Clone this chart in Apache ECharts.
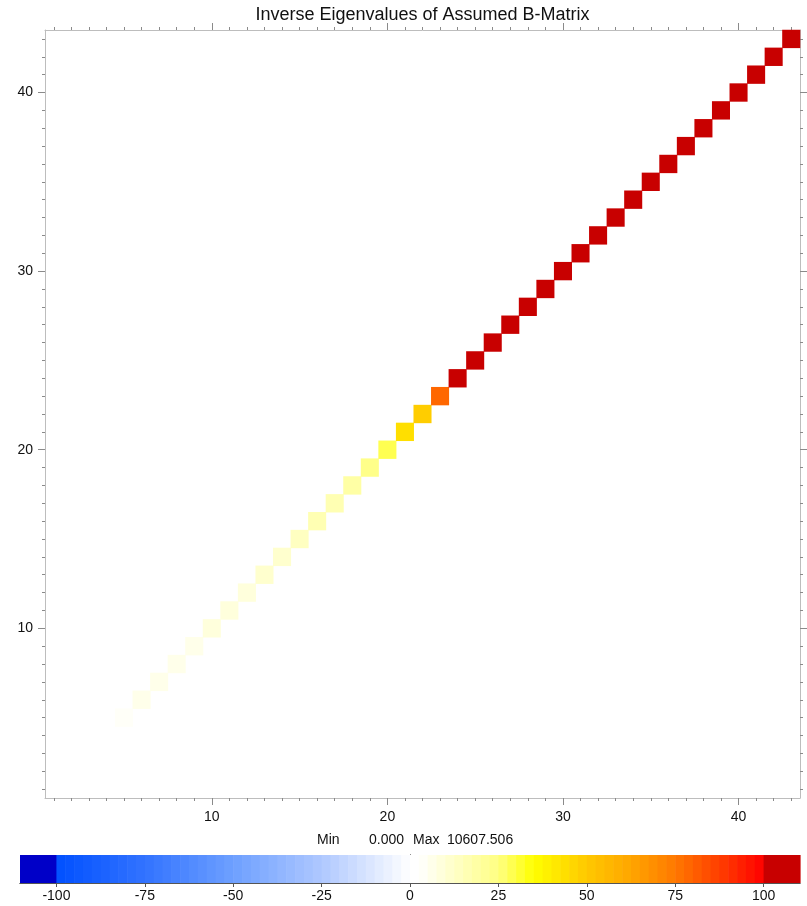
<!DOCTYPE html>
<html><head><meta charset="utf-8">
<script src="https://cdn.jsdelivr.net/npm/echarts@6/dist/echarts.min.js"></script>
<style>html,body{margin:0;padding:0;background:#fff}#c{width:807px;height:906px}</style>
</head><body><div id="c"></div>
<script>
// ---- data ----
const categories = ['1','2','3','4','5','6','7','8','9','10','11','12','13','14','15','16','17','18','19','20',
  '21','22','23','24','25','26','27','28','29','30','31','32','33','34','35','36','37','38','39','40','41','42','43'];
const majorTicks = ['10','20','30','40'];
const diagIndex = [5,6,7,8,9,10,11,12,13,14,15,16,17,18,19,20,21,22,23,24,25,26,27,28,29,30,31,32,33,34,35,36,37,38,39,40,41,42,43];
const diagValues = [4.2,5.0,5.6,6.4,7.1,7.9,8.8,9.9,11.0,12.3,13.6,15.2,16.9,19.4,23.1,28.0,44.5,49.0,79.5,
  132.6,171.4,218.0,268.9,330.2,405.7,497.3,611.8,749.5,915.0,1120.4,1372.9,1681.5,2065.2,2531.7,3108.3,3820.6,4704.1,6113.8,10607.506];
const colorbarTicks = [-100,-75,-50,-25,0,25,50,75,100];
const minValue = '0.000', maxValue = '10607.506';
const titleText = 'Inverse Eigenvalues of Assumed B-Matrix';

// ---- colour scale (style) ----
const STEP = 2.5;
const stops = [
  [-100,[0,80,255]],[-75,[50,115,255]],[-50,[110,160,255]],[-25,[175,200,255]],[0,[255,255,255]],
  [2.5,[255,255,255]],[25,[255,255,130]],[35,[255,255,0]],[50,[255,200,0]],[62.5,[255,165,0]],
  [75,[255,120,0]],[90,[255,50,0]],[100,[255,0,0]]
];
function colorAt(v){
  for(let i=0;i<stops.length-1;i++){
    const a=stops[i],b=stops[i+1];
    if(v>=a[0]&&v<=b[0]){
      const t=(v-a[0])/(b[0]-a[0]);
      const c=a[1].map((x,k)=>Math.round(x+(b[1][k]-x)*t));
      return 'rgb('+c.join(',')+')';
    }
  }
  return v<0?'rgb(0,80,255)':'rgb(255,0,0)';
}
const pieces=[{lt:-100,color:'#0000c8'}];
const cbData=[[-110.3,-100,-105]];
for(let lo=-100;lo<100;lo+=STEP){
  pieces.push({gte:lo,lt:lo+STEP,color:colorAt(lo+STEP/2)});
  cbData.push([lo,lo+STEP,lo+STEP/2]);
}
pieces.push({gte:100,color:'#c80000'});
cbData.push([100,110.3,105]);

const heatData = diagIndex.map((d,i)=>[String(d),String(d),diagValues[i]]);

const FONT='"Liberation Sans", Arial, sans-serif';
const lineStyle={color:'#bdbdbd',width:1};
const tickStyle={color:'#8a8a8a',width:1};
const isMajor=(idx,val)=>majorTicks.indexOf(String(val))>=0;

function catAxis(pos,major,labels){
  return {
    type:'category', data:categories, position:pos, gridIndex:0,
    boundaryGap:true,
    axisLine:{show:!major,lineStyle:lineStyle},
    axisTick:{show:true,alignWithLabel:true,interval:major?isMajor:0,length:major?7:3,lineStyle:tickStyle},
    axisLabel:{show:labels,interval:isMajor,color:'#111',fontSize:14,fontFamily:FONT,margin:12},
    splitLine:{show:false}
  };
}

const chart=echarts.init(document.getElementById('c'),null,{renderer:'canvas'});
chart.setOption({
  animation:false,
  backgroundColor:'#fff',
  grid:[
    {left:45,top:30,width:755,height:768},
    {left:20,top:855,width:780,height:28}
  ],
  xAxis:[
    catAxis('bottom',false,false),
    catAxis('bottom',true,true),
    catAxis('top',false,false),
    catAxis('top',true,false),
    {type:'value',gridIndex:1,min:-110.3,max:110.3,position:'bottom',
      axisLine:{show:true,lineStyle:{color:'#555',width:1}},
      axisTick:{show:true,customValues:colorbarTicks,length:4,lineStyle:{color:'#555'}},
      axisLabel:{show:true,customValues:colorbarTicks,color:'#111',fontSize:14,fontFamily:FONT,margin:6},
      splitLine:{show:false}},
    {type:'value',gridIndex:1,min:-110.3,max:110.3,position:'top',
      axisLine:{show:true,lineStyle:{color:'#555',width:1}},
      axisTick:{show:false},axisLabel:{show:false},splitLine:{show:false}}
  ],
  yAxis:[
    catAxis('left',false,false),
    catAxis('left',true,true),
    catAxis('right',false,false),
    catAxis('right',true,false),
    {type:'value',gridIndex:1,min:0,max:1,position:'left',
      axisLine:{show:true,lineStyle:{color:'#555',width:1}},
      axisTick:{show:false},axisLabel:{show:false},splitLine:{show:false}},
    {type:'value',gridIndex:1,min:0,max:1,position:'right',
      axisLine:{show:true,lineStyle:{color:'#555',width:1}},
      axisTick:{show:false},axisLabel:{show:false},splitLine:{show:false}}
  ],
  visualMap:{type:'piecewise',show:false,dimension:2,seriesIndex:[0,1],pieces:pieces},
  series:[
    {type:'heatmap',xAxisIndex:0,yAxisIndex:0,data:heatData,emphasis:{disabled:true},itemStyle:{borderWidth:0}},
    {type:'custom',xAxisIndex:4,yAxisIndex:4,data:cbData,encode:{x:[0,1]},silent:true,
      renderItem:function(params,api){
        const p0=api.coord([api.value(0),1]);
        const p1=api.coord([api.value(1),0]);
        return {type:'rect',shape:{x:p0[0],y:p0[1],width:p1[0]-p0[0]+0.6,height:p1[1]-p0[1]},
          style:{fill:api.visual('color')}};
      }}
  ],
  graphic:[
    {type:'text',x:422.5,y:15,style:{text:titleText,font:'18px '+FONT,fill:'#111',align:'center',verticalAlign:'middle'}},
    {type:'text',x:317,y:840,style:{text:'Min',font:'14px '+FONT,fill:'#111',align:'left',verticalAlign:'middle'}},
    {type:'text',x:404,y:840,style:{text:minValue,font:'14px '+FONT,fill:'#111',align:'right',verticalAlign:'middle'}},
    {type:'text',x:413,y:840,style:{text:'Max',font:'14px '+FONT,fill:'#111',align:'left',verticalAlign:'middle'}},
    {type:'text',x:447,y:840,style:{text:maxValue,font:'14px '+FONT,fill:'#111',align:'left',verticalAlign:'middle'}}
  ]
});
</script></body></html>
